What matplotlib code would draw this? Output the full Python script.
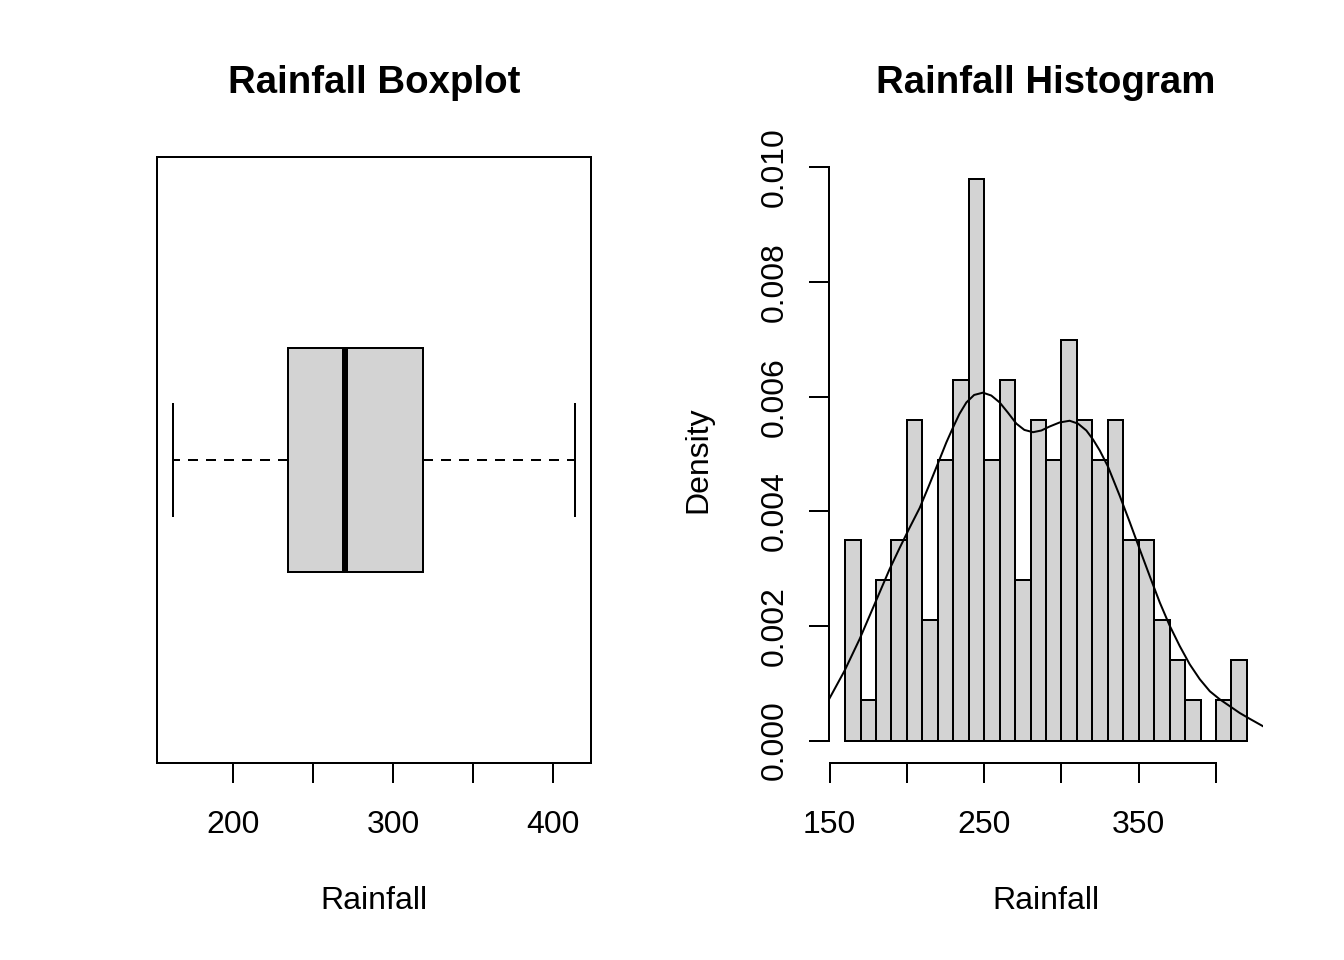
import matplotlib

matplotlib.use("Agg")
import matplotlib.pyplot as plt
import numpy as np

# ---- data ----
# boxplot summary of Rainfall
box_whislo = 162.5
box_q1 = 234.2
box_median = 270.2
box_q3 = 318.5
box_whishi = 413.7

# histogram (breaks every 10, freq=FALSE)
bin_breaks = [160, 170, 180, 190, 200, 210, 220, 230, 240, 250, 260, 270, 280,
              290, 300, 310, 320, 330, 340, 350, 360, 370, 380, 390, 400, 410, 420]
bin_counts = [5, 1, 4, 5, 8, 3, 7, 9, 14, 7, 9, 4, 8, 7, 10, 8, 7, 8, 5, 5,
              3, 2, 1, 0, 1, 2]

# kernel density curve
curve_x = [150.0, 159.7, 169.4, 179.1, 188.8, 195.3, 201.5, 208.3, 214.0,
           221.2, 225.5, 229.8, 234.0, 238.5, 243.5, 249.2, 254.6, 260.0,
           265.4, 270.8, 276.0, 281.6, 287.0, 292.4, 298.8, 305.3, 310.7,
           316.1, 320.5, 324.8, 330.1, 337.7, 344.2, 350.6, 357.1, 363.6,
           370.1, 376.5, 383.0, 389.5, 396.0, 402.4, 408.9, 415.4, 421.8,
           430.4]
curve_y = [0.00074, 0.00122, 0.00177, 0.00238, 0.00299, 0.00336, 0.00370,
           0.00406, 0.00443, 0.00491, 0.00520, 0.00546, 0.00570, 0.00590,
           0.00603, 0.00607, 0.00602, 0.00590, 0.00572, 0.00553, 0.00542,
           0.00538, 0.00541, 0.00548, 0.00555, 0.00558, 0.00553, 0.00541,
           0.00525, 0.00506, 0.00478, 0.00427, 0.00381, 0.00334, 0.00287,
           0.00241, 0.00200, 0.00165, 0.00133, 0.00107, 0.00086, 0.00072,
           0.00060, 0.00048, 0.00038, 0.00025]

box_ticks = [200, 250, 300, 350, 400]
box_ticklabels = ["200", "", "300", "", "400"]
hist_xticks = [150, 200, 250, 300, 350, 400]
hist_xticklabels = ["150", "", "250", "", "350", ""]
hist_yticks = [0.000, 0.002, 0.004, 0.006, 0.008, 0.010]

# ---- style (R base graphics look) ----
plt.rcParams["font.family"] = ["Liberation Sans", "DejaVu Sans"]
plt.rcParams["font.size"] = 12
LW = 0.75
FILL = "#D3D3D3"

fig = plt.figure(figsize=(7, 5), dpi=192)
ax1 = fig.add_axes([157 / 1344, 1 - 763 / 960, 434 / 1344, 606 / 960])
ax2 = fig.add_axes([829 / 1344, 1 - 763 / 960, 434 / 1344, 606 / 960])

# ---- boxplot ----
stats = [{
    "med": box_median, "q1": box_q1, "q3": box_q3,
    "whislo": box_whislo, "whishi": box_whishi, "fliers": [],
}]
ax1.bxp(
    stats,
    positions=[1],
    widths=0.4,
    capwidths=0.2,
    orientation="horizontal",
    patch_artist=True,
    showfliers=False,
    boxprops=dict(facecolor=FILL, edgecolor="black", linewidth=LW),
    medianprops=dict(color="black", linewidth=2.25, solid_capstyle="butt"),
    whiskerprops=dict(color="black", linewidth=LW, linestyle=(0, (5, 4))),
    capprops=dict(color="black", linewidth=LW),
)
lo, hi = box_whislo, box_whishi
pad = 0.04 * (hi - lo)
ax1.set_xlim(lo - pad, hi + pad)
ax1.set_ylim(0.46, 1.54)
ax1.set_yticks([])
ax1.set_xticks(box_ticks)
ax1.set_xticklabels(box_ticklabels)
for s in ax1.spines.values():
    s.set_linewidth(LW)
ax1.tick_params(axis="x", direction="out", length=7.5, width=LW, pad=10.3)
ax1.set_title("Rainfall Boxplot", fontsize=14.4, fontweight="bold", pad=24)
ax1.set_xlabel("Rainfall", va="top")
ax1.xaxis.set_label_coords(0.5, -0.203)

# ---- histogram ----
breaks = np.array(bin_breaks, dtype=float)
counts = np.array(bin_counts, dtype=float)
dens = counts / (counts.sum() * np.diff(breaks))
ax2.bar(breaks[:-1], dens, width=np.diff(breaks), align="edge",
        color=FILL, edgecolor="black", linewidth=LW)
ax2.plot(curve_x, curve_y, color="black", linewidth=LW)

ymax = dens.max()
xr = breaks[-1] - breaks[0]
ax2.set_xlim(breaks[0] - 0.04 * xr, breaks[-1] + 0.04 * xr)
ax2.set_ylim(-0.04 * ymax, 1.04 * ymax)
ax2.set_xticks(hist_xticks)
ax2.set_xticklabels(hist_xticklabels)
ax2.set_yticks(hist_yticks)
ax2.set_yticklabels([f"{v:.3f}" for v in hist_yticks], rotation=90, va="center")
ax2.spines["top"].set_visible(False)
ax2.spines["right"].set_visible(False)
ax2.spines["bottom"].set_bounds(hist_xticks[0], hist_xticks[-1])
ax2.spines["left"].set_bounds(hist_yticks[0], hist_yticks[-1])
for s in ax2.spines.values():
    s.set_linewidth(LW)
ax2.tick_params(axis="x", direction="out", length=7.5, width=LW, pad=10.3)
ax2.tick_params(axis="y", direction="out", length=7.5, width=LW, pad=7.1)
ax2.set_title("Rainfall Histogram", fontsize=14.4, fontweight="bold", pad=24)
ax2.set_xlabel("Rainfall", va="top")
ax2.xaxis.set_label_coords(0.5, -0.203)
ax2.set_ylabel("Density")
ax2.yaxis.set_label_coords(-0.267, 0.5)

fig.savefig("out.png", dpi=192)
